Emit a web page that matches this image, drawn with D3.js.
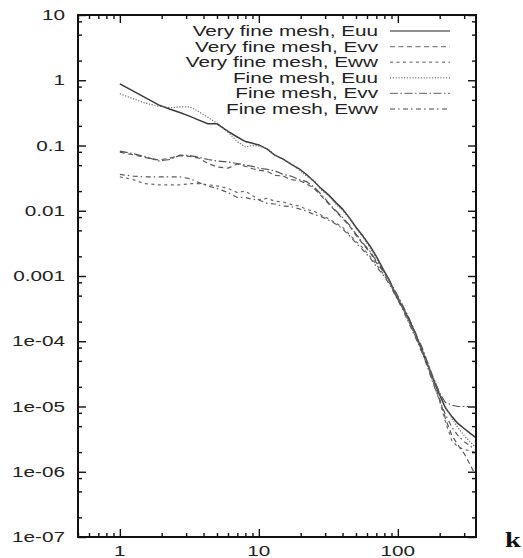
<!DOCTYPE html>
<html>
<head>
<meta charset="utf-8">
<script src="https://cdn.jsdelivr.net/npm/d3@7"></script>
<style>
  body { margin: 0; background: #fff; }
  svg { display: block; font-family: "Liberation Sans", Arial, sans-serif; }
</style>
</head>
<body>
<div id="chart"></div>
<script>
// wavenumbers shared by all spectra
const kValues = [1, 1.25, 1.5, 1.9, 2.3, 2.7, 3.2, 3.7, 4.3, 5, 6, 7, 8, 9, 10, 11.5, 13, 15, 17, 19.5,
  22, 25, 28, 32, 36, 40, 45, 50, 56, 63, 70, 78, 87, 97, 108, 120, 135, 150, 165, 180,
  200, 220, 245, 270, 300, 330, 360];

const veryFineEuu = [0.88, 0.68, 0.55, 0.42, 0.36, 0.32, 0.28, 0.245, 0.215, 0.215, 0.165, 0.135, 0.115, 0.108, 0.102, 0.088, 0.071, 0.062, 0.052, 0.044,
  0.036, 0.028, 0.022, 0.0172, 0.0132, 0.0106, 0.0077, 0.0056, 0.0041, 0.0029, 0.002, 0.0013, 0.00086, 0.0005, 0.00033, 0.00022, 0.000125, 0.00007, 0.000042, 0.000026,
  0.000015, 0.0000095, 0.000007, 0.0000055, 0.0000046, 0.0000039, 0.0000034];
const veryFineEvv = [0.079, 0.072, 0.066, 0.060, 0.064, 0.070, 0.068, 0.064, 0.053, 0.047, 0.045, 0.052, 0.048, 0.044, 0.042, 0.040, 0.035, 0.034, 0.030, 0.029,
  0.026, 0.022, 0.017, 0.0125, 0.0096, 0.0076, 0.0058, 0.0042, 0.0031, 0.0023, 0.0016, 0.0012, 0.00083, 0.00053, 0.00035, 0.00021, 0.00012, 0.000072, 0.000043, 0.000025,
  0.000013, 0.0000065, 0.0000036, 0.0000026, 0.0000019, 0.0000013, 0.0000009];
const veryFineEww = [0.033, 0.030, 0.026, 0.025, 0.025, 0.025, 0.026, 0.026, 0.025, 0.024, 0.022, 0.019, 0.020, 0.017, 0.0148, 0.0155, 0.014, 0.0136, 0.0125, 0.0118,
  0.0105, 0.0098, 0.0086, 0.0075, 0.0064, 0.0056, 0.0043, 0.0034, 0.0027, 0.002, 0.0015, 0.0011, 0.00078, 0.0005, 0.00033, 0.0002, 0.000115, 0.000068, 0.00004, 0.000023,
  0.000012, 0.0000058, 0.000003, 0.0000024, 0.0000022, 0.0000021, 0.000002];
const fineEuu = [0.62, 0.52, 0.45, 0.40, 0.38, 0.39, 0.39, 0.33, 0.27, 0.22, 0.16, 0.115, 0.095, 0.100, 0.098, 0.09, 0.073, 0.060, 0.053, 0.042,
  0.034, 0.029, 0.021, 0.0168, 0.0125, 0.0102, 0.0075, 0.0054, 0.0040, 0.0027, 0.0019, 0.00125, 0.00082, 0.00052, 0.00034, 0.0002, 0.00012, 0.000075, 0.000045, 0.000028,
  0.000016, 0.00001, 0.0000065, 0.0000048, 0.0000036, 0.0000029, 0.0000024];
const fineEvv = [0.082, 0.075, 0.068, 0.058, 0.061, 0.071, 0.070, 0.066, 0.061, 0.058, 0.056, 0.053, 0.050, 0.048, 0.045, 0.043, 0.041, 0.036, 0.034, 0.030,
  0.028, 0.023, 0.018, 0.013, 0.0099, 0.0079, 0.006, 0.0044, 0.0032, 0.0024, 0.0017, 0.00125, 0.00085, 0.00056, 0.00036, 0.00023, 0.00013, 0.000078, 0.000045, 0.000027,
  0.000016, 0.0000115, 0.0000105, 0.00001, 0.00001, 0.00001, 0.0000098];
const fineEww = [0.036, 0.034, 0.033, 0.033, 0.033, 0.033, 0.031, 0.027, 0.024, 0.022, 0.019, 0.016, 0.016, 0.015, 0.0146, 0.013, 0.0127, 0.0118, 0.0116, 0.0107,
  0.0099, 0.0087, 0.0082, 0.0071, 0.0062, 0.0053, 0.0041, 0.0032, 0.0025, 0.0019, 0.0014, 0.00105, 0.00075, 0.00048, 0.00031, 0.00019, 0.00011, 0.000065, 0.000038, 0.000022,
  0.0000125, 0.0000075, 0.0000048, 0.0000036, 0.0000029, 0.0000025, 0.0000022];

const seriesNames = ["Very fine mesh, Euu", "Very fine mesh, Evv", "Very fine mesh, Eww",
  "Fine mesh, Euu", "Fine mesh, Evv", "Fine mesh, Eww"];

const xTickValues = [1, 10, 100];
const xTickLabels = ["1", "10", "100"];
const yTickValues = [10, 1, 0.1, 0.01, 0.001, 1e-4, 1e-5, 1e-6, 1e-7];
const yTickLabels = ["10", "1", "0.1", "0.01", "0.001", "1e-04", "1e-05", "1e-06", "1e-07"];

// line look for each series, same order as seriesNames
const dashes = [null, "5,3.5", "3,3.5", "1.2,1.6", "8,2.5,1.5,2.5", "5,3,1.5,3.5"];
const strokes = ["#3a3a3a", "#5a5a5a", "#6a6a6a", "#6a6a6a", "#555", "#5a5a5a"];

const W = 523, H = 558;
const margin = {left: 78, top: 15, right: 47, bottom: 21};
const width = W - margin.left - margin.right;
const height = H - margin.top - margin.bottom;
const sx = 1.48; // the reference text is stretched sideways

const svg = d3.select("#chart").append("svg")
  .attr("width", W).attr("height", H);

const chart = svg.append("g")
  .attr("transform", `translate(${margin.left},${margin.top})`);

const x = d3.scaleLog().domain([0.5, 365]).range([0, width]);
const y = d3.scaleLog().domain([1e-7, 10]).range([height, 0]);

// minor tick positions
const xMinor = [];
[0.1, 1, 10, 100].forEach(d => { for (let m = 2; m <= 9; m++) { const v = d * m; if (v >= 0.5 && v <= 365) xMinor.push(v); } });
const yMinor = [];
[1e-7, 1e-6, 1e-5, 1e-4, 1e-3, 1e-2, 0.1, 1].forEach(d => [2, 5, 8].forEach(m => yMinor.push(d * m)));

function tickAxis(axisFn, scale, values, size, tr) {
  const g = chart.append("g")
    .attr("transform", tr || null)
    .call(axisFn(scale).tickValues(values).tickSize(-size).tickFormat(""));
  g.select(".domain").remove();
  g.selectAll("line").attr("stroke", "#111").attr("stroke-width", 1.4);
  return g;
}

// ticks on all four sides, pointing in
tickAxis(d3.axisLeft, y, yTickValues, 8);
tickAxis(d3.axisLeft, y, yMinor, 4);
tickAxis(d3.axisRight, y, yTickValues, 8, `translate(${width},0)`);
tickAxis(d3.axisRight, y, yMinor, 4, `translate(${width},0)`);
tickAxis(d3.axisBottom, x, xTickValues, 8, `translate(0,${height})`);
tickAxis(d3.axisBottom, x, xMinor, 4, `translate(0,${height})`);
tickAxis(d3.axisTop, x, xTickValues, 8);
tickAxis(d3.axisTop, x, xMinor, 4);

// tick labels
chart.append("g").selectAll("g")
  .data(yTickValues)
  .join("g")
  .attr("transform", d => `translate(-13,${y(d)}) scale(${sx},1)`)
  .append("text")
  .attr("text-anchor", "end")
  .attr("dy", "0.36em")
  .style("font-size", "14px")
  .attr("fill", "#222")
  .text((d, i) => yTickLabels[i]);

chart.append("g").selectAll("g")
  .data(xTickValues)
  .join("g")
  .attr("transform", d => `translate(${x(d)},${height + 19}) scale(${sx},1)`)
  .append("text")
  .attr("text-anchor", "middle")
  .style("font-size", "14px")
  .attr("fill", "#222")
  .text((d, i) => xTickLabels[i]);

// curves
const allSeries = [veryFineEuu, veryFineEvv, veryFineEww, fineEuu, fineEvv, fineEww];
const series = allSeries.map((vals, i) => ({
  name: seriesNames[i],
  points: kValues.map((k, j) => ({k: k, v: vals[j]}))
}));

chart.append("clipPath").attr("id", "clip")
  .append("rect").attr("width", width).attr("height", height);

const line = d3.line()
  .x(d => x(d.k))
  .y(d => y(d.v));

chart.append("g")
  .attr("clip-path", "url(#clip)")
  .selectAll("path")
  .data(series)
  .join("path")
  .attr("fill", "none")
  .attr("stroke", (d, i) => strokes[i])
  .attr("stroke-width", (d, i) => i === 0 ? 1.5 : 1.2)
  .attr("stroke-dasharray", (d, i) => dashes[i])
  .attr("d", d => line(d.points));

// legend
const legend = chart.append("g")
  .selectAll("g")
  .data(series)
  .join("g")
  .attr("transform", (d, i) => `translate(0,${16 + i * 15.6})`);

legend.append("g")
  .attr("transform", `translate(${300},0) scale(${sx},1)`)
  .append("text")
  .attr("text-anchor", "end")
  .attr("dy", "0.36em")
  .style("font-size", "14px")
  .attr("fill", "#222")
  .text(d => d.name);

legend.append("line")
  .attr("x1", 312).attr("x2", 372)
  .attr("stroke", (d, i) => strokes[i])
  .attr("stroke-opacity", 0.75)
  .attr("stroke-width", 1.4)
  .attr("stroke-dasharray", (d, i) => dashes[i]);

// frame
chart.append("rect")
  .attr("width", width).attr("height", height)
  .attr("fill", "none")
  .attr("stroke", "#111")
  .attr("stroke-width", 2);

// axis name
svg.append("g")
  .attr("transform", `translate(505,547) scale(1.35,1)`)
  .append("text")
  .style("font-family", "'Liberation Serif', 'Times New Roman', serif")
  .style("font-weight", "bold")
  .style("font-size", "21px")
  .attr("fill", "#111")
  .text("k");
</script>
</body>
</html>
